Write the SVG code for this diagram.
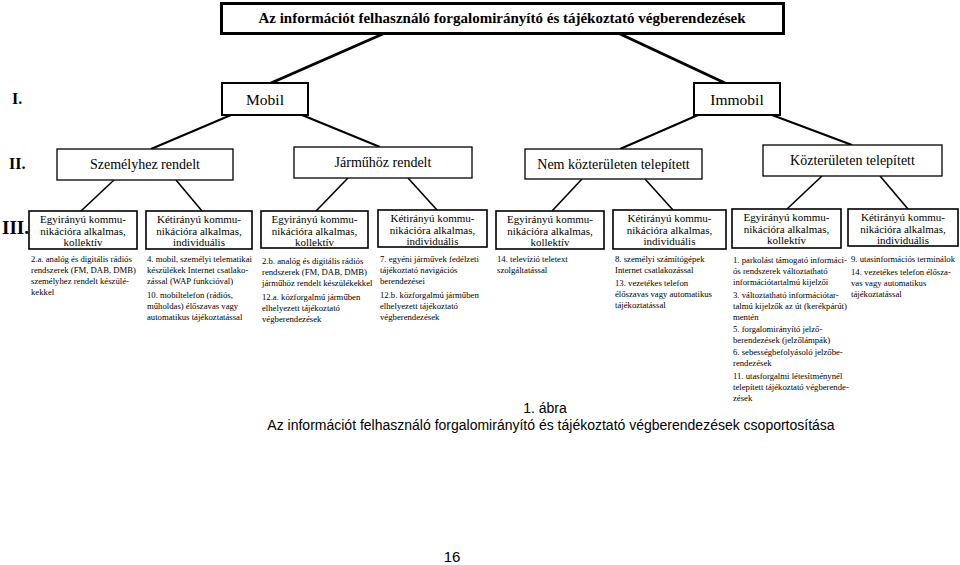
<svg xmlns="http://www.w3.org/2000/svg" width="960" height="565" viewBox="0 0 960 565">
<style>
.b{fill:#fff;stroke:#000}
.t{font-family:"Liberation Serif","Times New Roman",serif;fill:#000}
.c{text-anchor:middle}
.box{font-size:11px}
.lst{font-size:8.7px}
.lvl{font-family:"Liberation Serif",serif;font-weight:bold;fill:#000}
.s{font-family:"Liberation Sans",Arial,sans-serif;fill:#000;text-anchor:middle}
.ln{stroke:#000;fill:none}
</style>
<rect width="960" height="565" fill="#fff"/>
<g id="connectors">
<g class="ln" stroke-width="3">
<line x1="385" y1="33" x2="271" y2="83"/>
<line x1="618" y1="33" x2="725" y2="83"/>
</g>
<g class="ln" stroke-width="2">
<line x1="231" y1="115" x2="151" y2="149"/>
<line x1="302" y1="115" x2="380" y2="147"/>
<line x1="698" y1="115" x2="620" y2="149"/>
<line x1="772" y1="115" x2="852" y2="145"/>
</g>
<g class="ln" stroke-width="1.6">
<line x1="114" y1="180" x2="81" y2="211"/>
<line x1="176" y1="180" x2="202" y2="211"/>
<line x1="348" y1="178" x2="316" y2="211"/>
<line x1="408" y1="178" x2="437" y2="210"/>
<line x1="582" y1="179" x2="552" y2="211"/>
<line x1="645" y1="179" x2="673" y2="210"/>
<line x1="822" y1="176" x2="787" y2="209"/>
<line x1="880" y1="176" x2="908" y2="209"/>
</g>
</g>
<g id="root">
<rect class="b" x="221.5" y="3.5" width="562" height="30" stroke-width="3"/>
<text class="t c" x="502" y="23" font-size="15" font-weight="bold">Az információt felhasználó forgalomirányító és tájékoztató végberendezések</text>
</g>
<text class="lvl" x="12" y="104" font-size="16">I.</text>
<text class="lvl" x="9" y="169" font-size="16">II.</text>
<text class="lvl" x="2" y="234" font-size="19">III.</text>
<g id="mobil">
<rect class="b" x="222" y="83" width="86" height="32" stroke-width="2"/>
<text class="t c" x="265" y="105" font-size="15.5">Mobil</text>
</g>
<g id="immobil">
<rect class="b" x="694" y="83" width="86" height="32" stroke-width="2"/>
<text class="t c" x="737" y="105" font-size="15.5">Immobil</text>
</g>
<g id="szemelyhez">
<rect class="b" x="57" y="149" width="176" height="31" stroke-width="1.3"/>
<text class="t c" x="145" y="169" font-size="14">Személyhez rendelt</text>
</g>
<g id="jarmuhoz">
<rect class="b" x="294" y="147" width="178" height="31" stroke-width="1.3"/>
<text class="t c" x="383" y="167" font-size="14">Járműhöz rendelt</text>
</g>
<g id="nemkozteruleten">
<rect class="b" x="525" y="149" width="177" height="30" stroke-width="1.3"/>
<text class="t c" x="613.5" y="169" font-size="14">Nem közterületen telepített</text>
</g>
<g id="kozteruleten">
<rect class="b" x="763" y="145" width="179" height="31" stroke-width="1.3"/>
<text class="t c" x="852.5" y="165" font-size="14">Közterületen telepített</text>
</g>
<g id="n1">
<rect class="b" x="29" y="211" width="108" height="38" stroke-width="1.6"/>
<text class="t c box" x="83"><tspan x="83" y="222.5">Egyirányú kommu-</tspan><tspan x="83" y="234.5">nikációra alkalmas,</tspan><tspan x="83" y="246">kollektív</tspan></text>
<text class="t lst"><tspan x="31" y="262">2.a. analóg és digitális rádiós</tspan><tspan x="31" y="273">rendszerek (FM, DAB, DMB)</tspan><tspan x="31" y="284">személyhez rendelt készülé-</tspan><tspan x="31" y="295">kekkel</tspan></text>
</g>
<g id="n2">
<rect class="b" x="146" y="211" width="106" height="38" stroke-width="1.6"/>
<text class="t c box" x="199"><tspan x="199" y="222.5">Kétirányú kommu-</tspan><tspan x="199" y="234.5">nikációra alkalmas,</tspan><tspan x="199" y="246">individuális</tspan></text>
<text class="t lst"><tspan x="147" y="262">4. mobil, személyi telematikai</tspan><tspan x="147" y="273">készülékek Internet csatlako-</tspan><tspan x="147" y="284">zással (WAP funkcióval)</tspan><tspan x="147" y="297.5">10. mobiltelefon (rádiós,</tspan><tspan x="147" y="308.5">műholdas) élőszavas vagy</tspan><tspan x="147" y="319.5">automatikus tájékoztatással</tspan></text>
</g>
<g id="n3">
<rect class="b" x="261" y="211" width="107" height="37" stroke-width="1.6"/>
<text class="t c box" x="314.5"><tspan x="314.5" y="222.5">Egyirányú kommu-</tspan><tspan x="314.5" y="234.5">nikációra alkalmas,</tspan><tspan x="314.5" y="246">kollektív</tspan></text>
<text class="t lst"><tspan x="262" y="264">2.b. analóg és digitális rádiós</tspan><tspan x="262" y="275">rendszerek (FM, DAB, DMB)</tspan><tspan x="262" y="286">járműhöz rendelt készülékekkel</tspan><tspan x="262" y="299.5">12.a. közforgalmú járműben</tspan><tspan x="262" y="310.5">elhelyezett tájékoztató</tspan><tspan x="262" y="321.5">végberendezések</tspan></text>
</g>
<g id="n4">
<rect class="b" x="378" y="210" width="109" height="37" stroke-width="1.6"/>
<text class="t c box" x="432.5"><tspan x="432.5" y="221.5">Kétirányú kommu-</tspan><tspan x="432.5" y="233.5">nikációra alkalmas,</tspan><tspan x="432.5" y="245">individuális</tspan></text>
<text class="t lst"><tspan x="380" y="262">7. egyéni járművek fedélzeti</tspan><tspan x="380" y="273">tájékoztató navigációs</tspan><tspan x="380" y="284">berendezései</tspan><tspan x="380" y="297.5">12.b. közforgalmú járműben</tspan><tspan x="380" y="308.5">elhelyezett tájékoztató</tspan><tspan x="380" y="319.5">végberendezések</tspan></text>
</g>
<g id="n5">
<rect class="b" x="496" y="211" width="108" height="38" stroke-width="1.6"/>
<text class="t c box" x="550"><tspan x="550" y="222.5">Egyirányú kommu-</tspan><tspan x="550" y="234.5">nikációra alkalmas,</tspan><tspan x="550" y="246">kollektív</tspan></text>
<text class="t lst"><tspan x="497" y="262">14. televízió teletext</tspan><tspan x="497" y="273">szolgáltatással</tspan></text>
</g>
<g id="n6">
<rect class="b" x="613" y="210" width="113" height="39" stroke-width="1.6"/>
<text class="t c box" x="669.5"><tspan x="669.5" y="221.5">Kétirányú kommu-</tspan><tspan x="669.5" y="233.5">nikációra alkalmas,</tspan><tspan x="669.5" y="245">individuális</tspan></text>
<text class="t lst"><tspan x="615" y="262">8. személyi számítógépek</tspan><tspan x="615" y="273">Internet csatlakozással</tspan><tspan x="615" y="286">13. vezetékes telefon</tspan><tspan x="615" y="297">élőszavas vagy automatikus</tspan><tspan x="615" y="308">tájékoztatással</tspan></text>
</g>
<g id="n7">
<rect class="b" x="732" y="209" width="109" height="39" stroke-width="1.6"/>
<text class="t c box" x="786.5"><tspan x="786.5" y="220.5">Egyirányú kommu-</tspan><tspan x="786.5" y="232.5">nikációra alkalmas,</tspan><tspan x="786.5" y="244">kollektív</tspan></text>
<text class="t lst"><tspan x="733" y="263">1. parkolást támogató informáci-</tspan><tspan x="733" y="274">ós rendszerek változtatható</tspan><tspan x="733" y="285">információtartalmú kijelzői</tspan><tspan x="733" y="298">3. változtatható információtar-</tspan><tspan x="733" y="309">talmú kijelzők az út (kerékpárút)</tspan><tspan x="733" y="320">mentén</tspan><tspan x="733" y="332">5. forgalomirányító jelző-</tspan><tspan x="733" y="343">berendezések (jelzőlámpák)</tspan><tspan x="733" y="355">6. sebességbefolyásoló jelzőbe-</tspan><tspan x="733" y="366">rendezések</tspan><tspan x="733" y="379">11. utasforgalmi létesítménynél</tspan><tspan x="733" y="390">telepített tájékoztató végberende-</tspan><tspan x="733" y="401">zések</tspan></text>
</g>
<g id="n8">
<rect class="b" x="848" y="209" width="110" height="37" stroke-width="1.6"/>
<text class="t c box" x="903"><tspan x="903" y="220.5">Kétirányú kommu-</tspan><tspan x="903" y="232.5">nikációra alkalmas,</tspan><tspan x="903" y="244">individuális</tspan></text>
<text class="t lst"><tspan x="851" y="262">9. utasinformációs terminálok</tspan><tspan x="851" y="275">14. vezetékes telefon élősza-</tspan><tspan x="851" y="286">vas vagy automatikus</tspan><tspan x="851" y="297">tájékoztatással</tspan></text>
</g>
<text class="s" x="545" y="413" font-size="14">1. ábra</text>
<text class="s" x="551" y="430" font-size="14">Az információt felhasználó forgalomirányító és tájékoztató végberendezések csoportosítása</text>
<text class="s" x="452" y="562" font-size="15">16</text>
</svg>
